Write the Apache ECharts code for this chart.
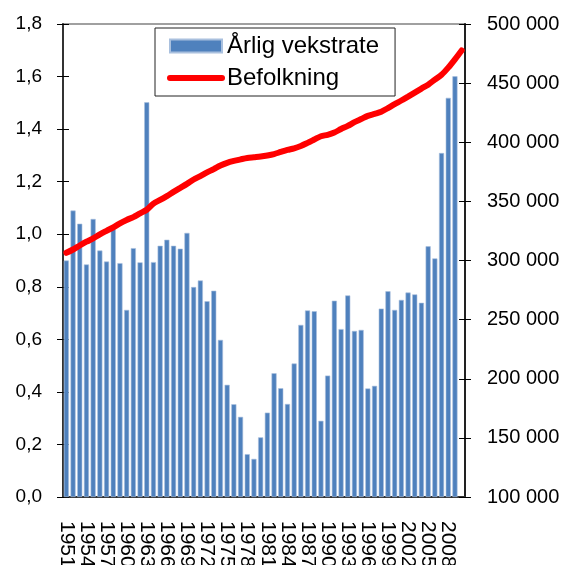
<!doctype html>
<html>
<head>
    <meta charset="utf-8">
    <title>Befolkning</title>
    <script src="https://cdn.jsdelivr.net/npm/echarts@6/dist/echarts.min.js"></script>
    <style>
        html, body { margin: 0; padding: 0; background: #fff; }
        #main { width: 567px; height: 565px; }
    </style>
</head>
<body>
    <div id="main"></div>
    <script type="text/javascript">
        // år 1951-2010
        var years = [];
        for (var y = 1951; y <= 2010; y++) years.push(String(y));

        // årlig vekstrate (%), siste år mangler
        var vekstrate = [
            0.90, 1.09, 1.04, 0.885, 1.058, 0.938, 0.896, 1.02, 0.89, 0.712,
            0.947, 0.893, 1.502, 0.894, 0.956, 0.979, 0.956, 0.945, 1.005, 0.799,
            0.824, 0.745, 0.785, 0.598, 0.427, 0.353, 0.305, 0.163, 0.145, 0.227,
            0.321, 0.471, 0.414, 0.354, 0.508, 0.655, 0.71, 0.707, 0.29, 0.462,
            0.747, 0.639, 0.767, 0.632, 0.636, 0.413, 0.423, 0.717, 0.783, 0.712,
            0.75, 0.778, 0.771, 0.739, 0.954, 0.908, 1.309, 1.519, 1.601, null
        ];

        // befolkning
        var befolkning = [
            306500, 309300, 312700, 315900, 318700, 322100, 325100, 328000, 331400, 334300,
            336700, 339900, 342900, 348100, 351200, 354500, 358000, 361400, 364800, 368500,
            371400, 374500, 377300, 380300, 382600, 384200, 385500, 386700, 387300, 387900,
            388800, 390000, 391800, 393500, 394900, 396900, 399500, 402300, 405100, 406300,
            408200, 411200, 413800, 417000, 419600, 422300, 424000, 425800, 428900, 432200,
            435300, 438600, 442000, 445400, 448700, 453000, 457100, 463100, 470100, 477600
        ];

        var font = 'Liberation Sans, Arial, sans-serif';
        var tick = { color: '#000', width: 1 };

        // ekstra akser bare for innvendige tikk (kryssende tikk som i Excel)
        function innerY(pos, min, max, interval) {
            return {
                type: 'value', position: pos, min: min, max: max, interval: interval,
                splitLine: { show: false },
                axisLine: { show: false },
                axisLabel: { show: false },
                axisTick: { show: true, inside: true, length: 6, lineStyle: tick }
            };
        }

        var myChart = echarts.init(document.getElementById('main'));
        var option = {
            animation: false,
            textStyle: { fontFamily: font },
            legend: {
                left: 155,
                top: 28,
                orient: 'vertical',
                padding: [6, 16, 6, 12],
                itemGap: 8,
                itemWidth: 52,
                itemHeight: 13,
                backgroundColor: '#fff',
                borderColor: '#222',
                borderWidth: 1,
                borderRadius: 0,
                textStyle: { fontSize: 24, color: '#000', fontFamily: font },
                data: [
                    { name: 'Årlig vekstrate', icon: 'rect' },
                    {
                        name: 'Befolkning',
                        itemStyle: { opacity: 0 },
                        lineStyle: { color: '#ff0000', width: 6, cap: 'round' }
                    }
                ]
            },
            grid: {
                left: 63,
                right: 102,
                top: 24,
                bottom: 68,
                outerBoundsMode: 'none',
                containLabel: false,
                show: true,
                borderColor: '#a0a0a0',
                borderWidth: 2
            },
            xAxis: [
                {
                    type: 'category',
                    data: years,
                    position: 'bottom',
                    boundaryGap: true,
                    axisLine: { lineStyle: { color: '#333', width: 2 } },
                    axisTick: { interval: 0, length: 6, lineStyle: tick },
                    axisLabel: {
                        interval: 0,
                        rotate: -90,
                        fontSize: 21,
                        lineHeight: 15,
                        color: '#000',
                        margin: 24,
                        hideOverlap: false,
                        fontFamily: font,
                        formatter: function (v, i) { return i % 3 === 0 ? v : ''; }
                    }
                },
                {
                    type: 'category',
                    data: years,
                    position: 'bottom',
                    boundaryGap: true,
                    axisLine: { show: false },
                    axisLabel: { show: false },
                    axisTick: { interval: 0, inside: true, length: 5, lineStyle: tick }
                }
            ],
            yAxis: [
                {
                    type: 'value',
                    position: 'left',
                    min: 0,
                    max: 1.8,
                    interval: 0.2,
                    splitLine: { show: false },
                    axisLine: { show: true, lineStyle: { color: '#333', width: 2 } },
                    axisTick: { show: true, length: 6, lineStyle: tick },
                    axisLabel: {
                        fontSize: 19,
                        color: '#000',
                        margin: 21,
                        fontFamily: font,
                        formatter: function (v) { return v.toFixed(1).replace('.', ','); }
                    }
                },
                {
                    type: 'value',
                    position: 'right',
                    min: 100000,
                    max: 500000,
                    interval: 50000,
                    splitLine: { show: false },
                    axisLine: { show: true, lineStyle: { color: '#222', width: 2 } },
                    axisTick: { show: true, length: 6, lineStyle: tick },
                    axisLabel: {
                        fontSize: 20,
                        color: '#000',
                        margin: 22,
                        fontFamily: font,
                        formatter: function (v) {
                            return String(v).replace(/\B(?=(\d{3})+(?!\d))/g, ' ');
                        }
                    }
                },
                innerY('left', 0, 1.8, 0.2),
                innerY('right', 100000, 500000, 50000)
            ],
            series: [
                {
                    name: 'Årlig vekstrate',
                    type: 'bar',
                    yAxisIndex: 0,
                    data: vekstrate,
                    barCategoryGap: '24%',
                    itemStyle: { color: '#4f81bd', borderColor: '#a9c0de', borderWidth: 0.6 }
                },
                {
                    name: 'Befolkning',
                    type: 'line',
                    yAxisIndex: 1,
                    data: befolkning,
                    symbol: 'none',
                    smooth: 0.3,
                    lineStyle: { color: '#ff0000', width: 6, cap: 'round' },
                    itemStyle: { color: '#ff0000' }
                }
            ]
        };
        myChart.setOption(option);
    </script>
</body>
</html>
